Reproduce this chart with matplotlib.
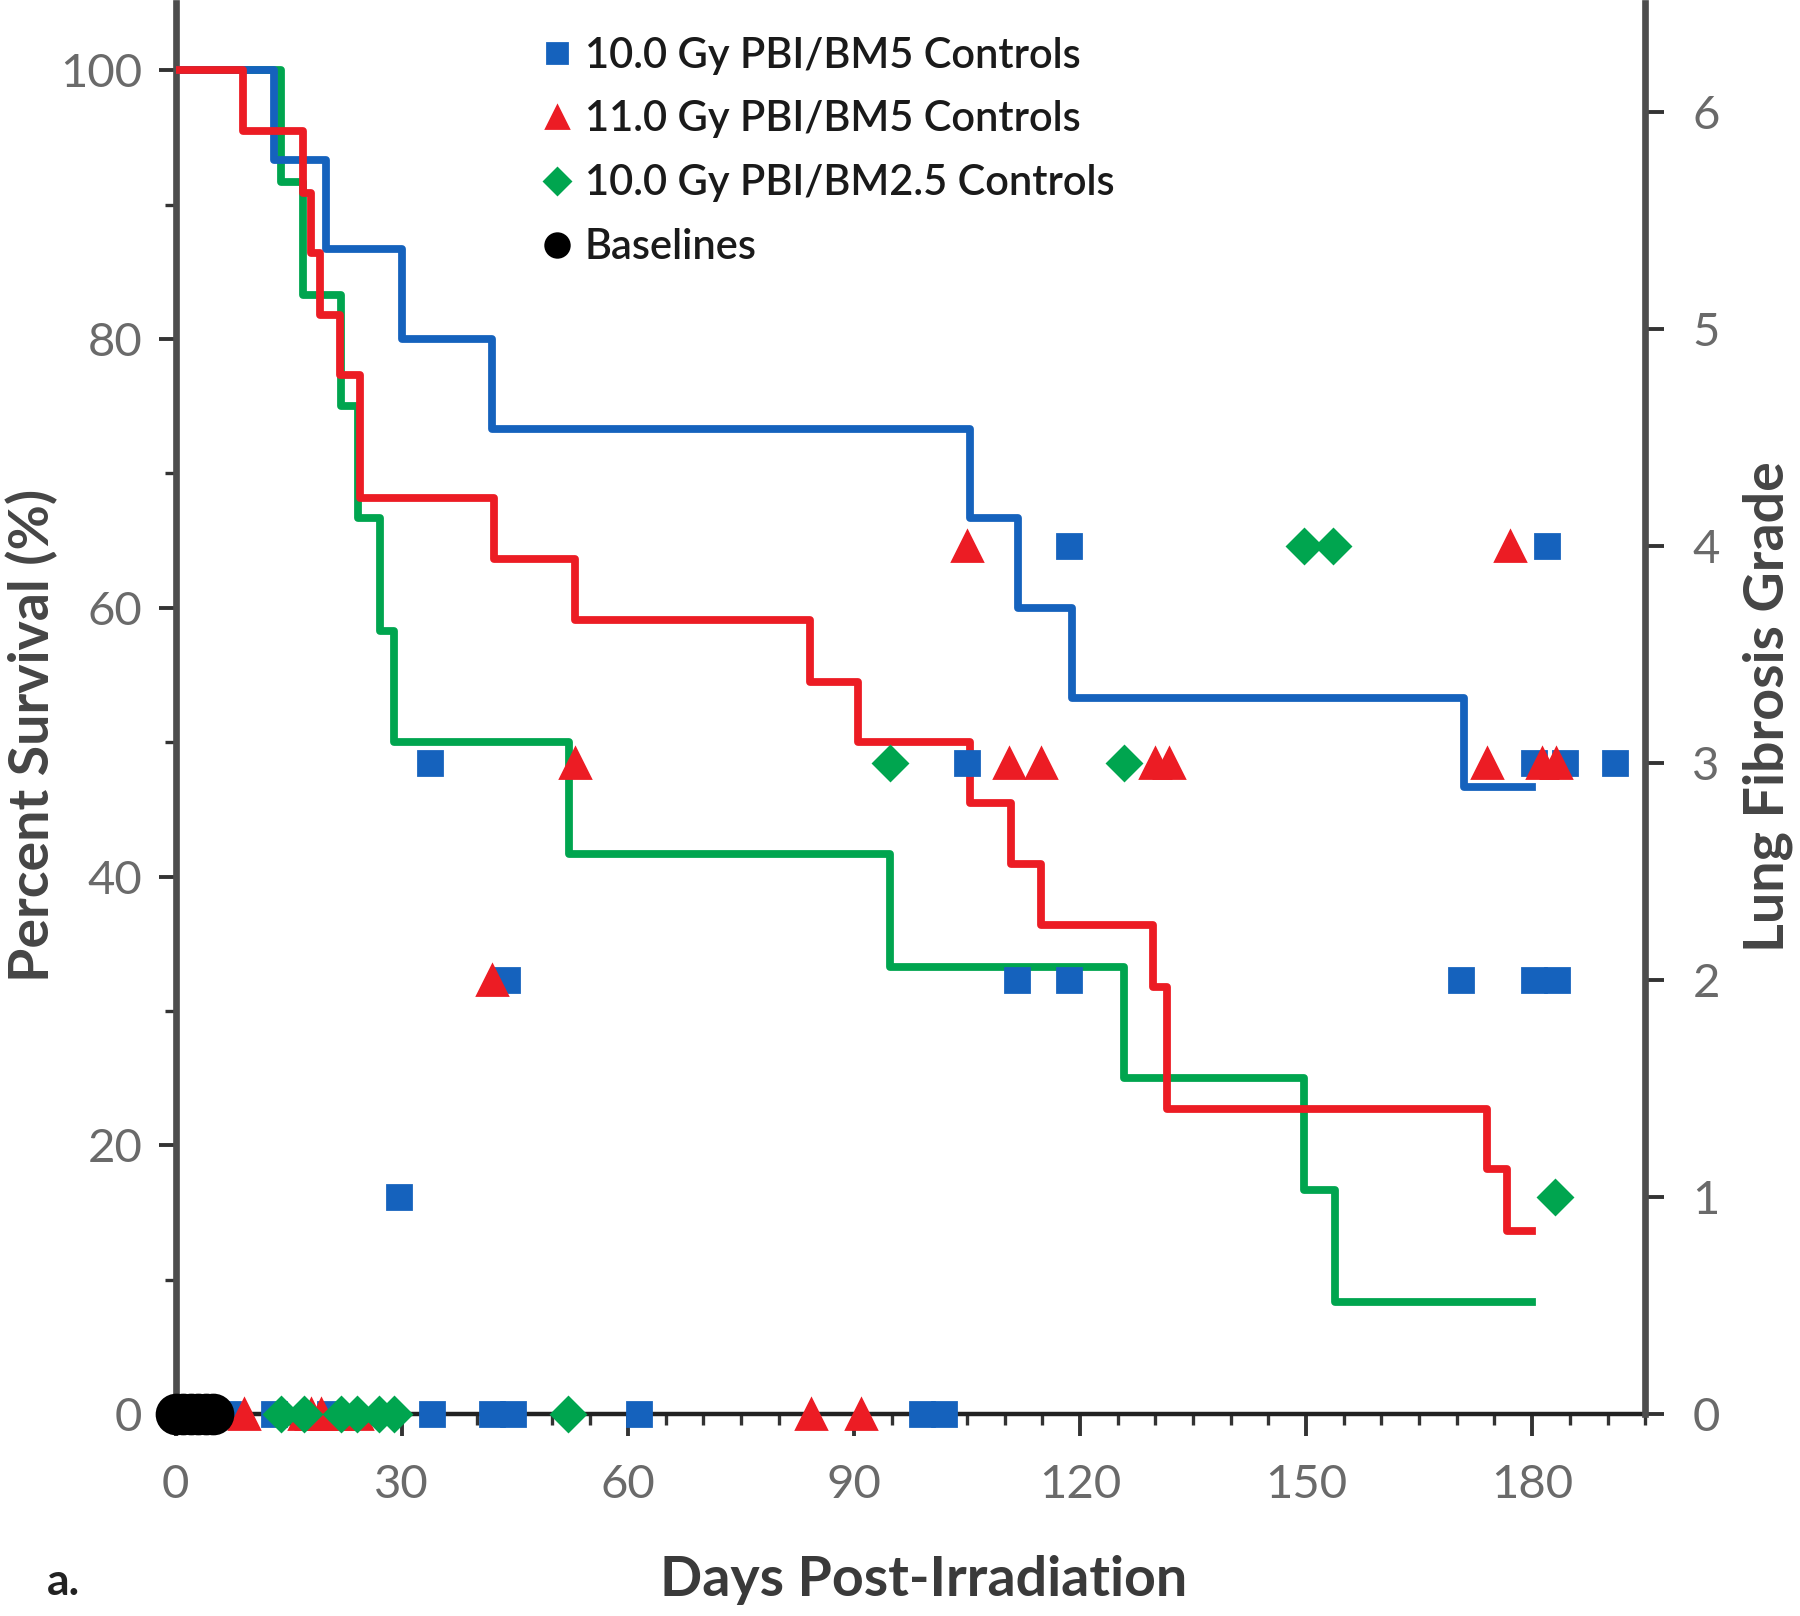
import matplotlib
matplotlib.use("Agg")
import matplotlib.pyplot as plt
from matplotlib.ticker import MultipleLocator
from matplotlib.lines import Line2D

plt.rcParams['font.family'] = ['Lato', 'DejaVu Sans']

# ---------------- data ----------------
# Kaplan-Meier survival steps (left axis, %)
blue_days = [0, 13, 20, 30, 42, 105.4, 111.8, 118.9, 170.9, 180]
blue_surv = [100, 93.3, 86.7, 80.0, 73.3, 66.7, 60.0, 53.3, 46.7, 46.7]

red_days = [0, 8.9, 16.9, 18.0, 19.1, 21.8, 24.4, 42.3, 53.0, 84.2, 90.5,
            105.4, 110.9, 114.8, 129.7, 131.5, 174.0, 176.7, 180]
red_surv = [100, 95.5, 90.9, 86.4, 81.8, 77.3, 68.2, 63.6, 59.1, 54.5, 50.0,
            45.5, 40.9, 36.4, 31.8, 22.7, 18.2, 13.6, 13.6]

green_days = [0, 14.0, 16.9, 22.0, 24.2, 27.1, 29.0, 52.2, 94.8, 125.9,
              149.7, 153.9, 180]
green_surv = [100, 91.7, 83.3, 75.0, 66.7, 58.3, 50.0, 41.7, 33.3, 25.0,
              16.7, 8.3, 8.3]

# Lung fibrosis grades (right axis)
blue_pt_days = [7, 13, 20.5, 29.7, 33.8, 34, 42, 44.8, 44, 61.5, 99, 102,
                105, 111.6, 118.6, 118.6, 170.6, 180.3, 183.3, 180.3, 184.3,
                191, 182]
blue_pt_grade = [0, 0, 0, 1, 3, 0, 0, 0, 2, 0, 0, 0,
                 3, 2, 2, 4, 2, 2, 2, 3, 3,
                 3, 4]

red_pt_days = [9, 17, 18, 19.3, 22, 24, 42, 53, 84.3, 91, 105, 110.6, 114.8,
               130, 131.8, 174, 177, 181.3, 183.1]
red_pt_grade = [0, 0, 0, 0, 0, 0, 2, 3, 0, 0, 4, 3, 3,
                3, 3, 3, 4, 3, 3]

green_pt_days = [14, 17, 22, 24, 27, 29, 52, 94.8, 125.9, 149.7, 153.6, 183]
green_pt_grade = [0, 0, 0, 0, 0, 0, 0, 3, 3, 4, 4, 1]

black_pt_days = [0, 1, 2, 3, 4, 5]
black_pt_grade = [0, 0, 0, 0, 0, 0]

labels = ["10.0 Gy PBI/BM5 Controls", "11.0 Gy PBI/BM5 Controls",
          "10.0 Gy PBI/BM2.5 Controls", "Baselines"]

x_ticks = [0, 30, 60, 90, 120, 150, 180]
y_ticks = [0, 20, 40, 60, 80, 100]
g_ticks = [0, 1, 2, 3, 4, 5, 6]

# ---------------- style ----------------
BLUE = '#1562bd'
RED = '#ec1c24'
GREEN = '#00a54f'
BLACK = '#000000'
SPINE = '#4d4d4d'
TICKC = '#6a6a6a'

fig = plt.figure(figsize=(9, 8.08), dpi=200)
ax = fig.add_axes([0.0976, 0.125, 0.8164, 0.873])
ax2 = ax.twinx()

lw = 2.8
ax.step(blue_days, blue_surv, where='post', color=BLUE, lw=lw, zorder=3)
ax.step(red_days, red_surv, where='post', color=RED, lw=lw, zorder=3)
ax.step(green_days, green_surv, where='post', color=GREEN, lw=lw, zorder=2)

ax.set_xlim(0, 195)
ax.set_ylim(0, 105)
ax2.set_ylim(0, 6.5)

ms_sq, ms_tri, ms_dia, ms_circ = 8.8, 10.8, 8.8, 14
ax2.plot(blue_pt_days, blue_pt_grade, 's', color=BLUE, ms=ms_sq, mec=BLUE,
         clip_on=False, zorder=4)
ax2.plot(red_pt_days, red_pt_grade, '^', color=RED, ms=ms_tri, mec=RED,
         clip_on=False, zorder=5)
ax2.plot(green_pt_days, green_pt_grade, 'D', color=GREEN, ms=ms_dia, mec=GREEN,
         clip_on=False, zorder=6)
ax2.plot(black_pt_days, black_pt_grade, 'o', color=BLACK, ms=ms_circ, mec=BLACK,
         clip_on=False, zorder=7)

# spines
for a in (ax, ax2):
    a.spines['top'].set_visible(False)
ax.spines['left'].set_color(SPINE)
ax.spines['left'].set_linewidth(2.4)
ax.spines['bottom'].set_color('#222222')
ax.spines['bottom'].set_linewidth(1.6)
ax.spines['right'].set_visible(False)
ax2.spines['left'].set_visible(False)
ax2.spines['bottom'].set_visible(False)
ax2.spines['right'].set_color(SPINE)
ax2.spines['right'].set_linewidth(2.4)

# ticks
ax.set_xticks(x_ticks)
ax.xaxis.set_minor_locator(MultipleLocator(5))
ax.set_yticks(y_ticks)
ax.yaxis.set_minor_locator(MultipleLocator(10))
ax2.set_yticks(g_ticks)

tick_fs = 17
ax.tick_params(axis='x', which='major', direction='out', length=8, width=1.4,
               color='#333333', labelsize=tick_fs, labelcolor=TICKC, pad=10)
ax.tick_params(axis='x', which='minor', direction='out', length=4, width=1.2,
               color='#333333')
ax.tick_params(axis='y', which='major', direction='out', length=6, width=1.4,
               color='#333333', labelsize=tick_fs, labelcolor=TICKC, pad=6)
ax.tick_params(axis='y', which='minor', direction='out', length=4, width=1.2,
               color='#333333')
ax2.tick_params(axis='y', which='major', direction='out', length=7, width=1.4,
                color='#333333', labelsize=tick_fs, labelcolor=TICKC, pad=10)

# labels
fig.text(0.018, 0.545, "Percent Survival (%)", rotation=90, ha='center',
         va='center', fontsize=20, fontweight='bold', color='#454545')
fig.text(0.513, 0.022, "Days Post-Irradiation", ha='center', va='center',
         fontsize=20, fontweight='bold', color='#3a3a3a')
fig.text(0.982, 0.563, "Lung Fibrosis Grade", rotation=90, ha='center',
         va='center', fontsize=20, fontweight='bold', color='#454545')
fig.text(0.035, 0.021, "a.", ha='center', va='center', fontsize=16,
         fontweight='bold', color='#222222')

# legend
handles = [
    Line2D([], [], ls='none', marker='s', color=BLUE, ms=7.5),
    Line2D([], [], ls='none', marker='^', color=RED, ms=8),
    Line2D([], [], ls='none', marker='D', color=GREEN, ms=6.5),
    Line2D([], [], ls='none', marker='o', color=BLACK, ms=8.5),
]
leg = ax2.legend(handles, labels, loc='upper left', bbox_to_anchor=(0.23, 0.997),
                 frameon=False, handlelength=0.7, handletextpad=0.3,
                 borderpad=0.2, labelspacing=0.62,
                 prop={'size': 15, 'weight': 'semibold'})
for t in leg.get_texts():
    t.set_color('#1a1a1a')

fig.savefig("out.png", dpi=200)
